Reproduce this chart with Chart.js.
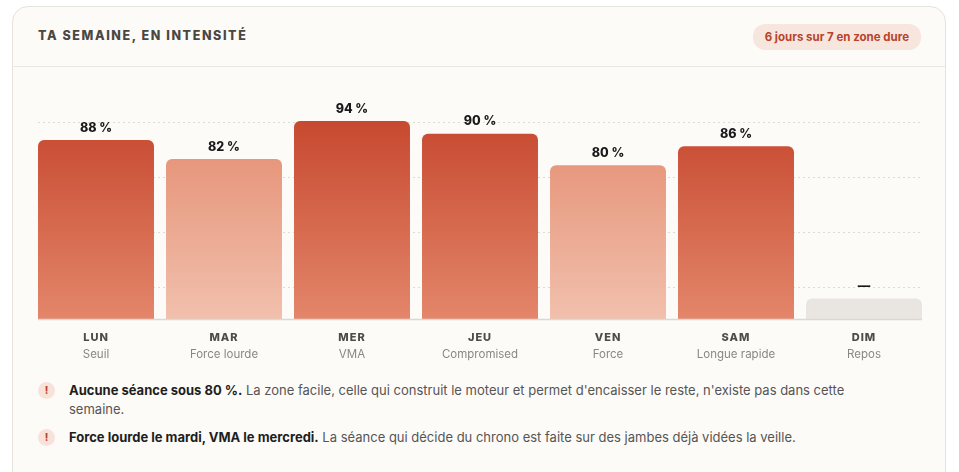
<!DOCTYPE html>
<html><head><meta charset="utf-8">
<script src="https://cdn.jsdelivr.net/npm/chart.js@4/dist/chart.umd.min.js"></script>
<style>
body{margin:0;background:#fff;font-family:Inter,"Noto Sans",sans-serif;}
.card{position:absolute;left:12px;top:6px;width:932px;height:480px;border:1px solid #e6e2dc;border-radius:16px;background:#fdfbf8;}
.title{position:absolute;left:25px;top:21px;font-size:12.5px;font-weight:800;letter-spacing:1.6px;color:#4a4742;}
.pill{position:absolute;right:24px;top:17px;background:#f7e6de;color:#b8432b;font-size:11.5px;font-weight:700;padding:6px 12px;border-radius:12px;}
.sep{position:absolute;left:0;right:0;top:59px;border-top:1px solid #ebe7e1;}
.cv{position:absolute;left:19px;top:60px;width:896px;height:310px;}
.note{position:absolute;left:25px;width:860px;font-size:13px;line-height:19px;color:#555;}
.note b{color:#1e1e1e;font-weight:700}
.ic{position:absolute;left:0;top:1px;width:17px;height:17px;border-radius:50%;background:#f8e2da;color:#b8432b;font-size:10px;font-weight:800;text-align:center;line-height:17px;}
.tx{margin-left:31px;}
</style></head><body>
<div class="card">
<div class="title">TA SEMAINE, EN INTENSITÉ</div>
<div class="pill">6 jours sur 7 en zone dure</div>
<div class="sep"></div>
<div class="cv"><canvas id="c"></canvas></div>
<div class="note" style="top:374px"><span class="ic">!</span><div class="tx"><b>Aucune séance sous 80 %.</b> La zone facile, celle qui construit le moteur et permet d'encaisser le reste, n'existe pas dans cette semaine.</div></div>
<div class="note" style="top:421px"><span class="ic">!</span><div class="tx"><b>Force lourde le mardi, VMA le mercredi.</b> La séance qui décide du chrono est faite sur des jambes déjà vidées la veille.</div></div>
</div>
<script>
const days = ["LUN","MAR","MER","JEU","VEN","SAM","DIM"];
const sessions = ["Seuil","Force lourde","VMA","Compromised","Force","Longue rapide","Repos"];
const intensity = [88,82,94,90,80,86,38];
const valueLabels = ["88 %","82 %","94 %","90 %","80 %","86 %","—"];
const kind = ["hard","light","hard","hard","light","hard","rest"];
const gridValues = [41.6,58.9,76.3,93.6];

function fill(ctx){
  const k = kind[ctx.dataIndex];
  const ca = ctx.chart.chartArea;
  if(!ca) return '#ccc';
  if(k==='rest') return '#e9e6e2';
  const g = ctx.chart.ctx.createLinearGradient(0,ca.top,0,ca.bottom);
  if(k==='hard'){g.addColorStop(0,'#c4432a');g.addColorStop(1,'#e3866a');}
  else{g.addColorStop(0,'#e3886b');g.addColorStop(1,'#f1c0ad');}
  return g;
}
const labelsPlugin={id:'lbl',
 beforeDatasetsDraw(ch){
  const c=ch.ctx, y=ch.scales.y, m=ch.getDatasetMeta(0);
  const l=m.data[0].x-m.data[0].width/2, r=m.data[6].x+m.data[6].width/2;
  c.save();c.strokeStyle='#dedad4';c.lineWidth=1;c.setLineDash([2,3]);
  gridValues.forEach(v=>{const py=Math.round(y.getPixelForValue(v))+0.5;c.beginPath();c.moveTo(l,py);c.lineTo(r,py);c.stroke();});
  c.restore();
 },
 afterDatasetsDraw(ch){
  const c=ch.ctx, x=ch.scales.x, m=ch.getDatasetMeta(0);
  const l=m.data[0].x-m.data[0].width/2, r=m.data[6].x+m.data[6].width/2;
  const base=ch.chartArea.bottom;
  c.save();c.textAlign='center';
  m.data.forEach((b,i)=>{
    c.fillStyle='#1a1a1a';c.font='800 12.5px Inter';c.textBaseline='bottom';
    c.fillText(valueLabels[i],b.x,b.y-6);
    const px=x.getPixelForValue(i);
    c.fillStyle='#4f4c48';c.font='800 11px Inter';c.textBaseline='middle';
    if(c.letterSpacing!==undefined)c.letterSpacing='1px';
    c.fillText(days[i],px,base+19);
    if(c.letterSpacing!==undefined)c.letterSpacing='0px';
    c.fillStyle='#8a8783';c.font='400 11.5px Inter';
    c.fillText(sessions[i],px,base+36);
  });
  c.strokeStyle='#dcd8d2';c.lineWidth=1.5;c.beginPath();
  c.moveTo(l,base+0.5);c.lineTo(r,base+0.5);c.stroke();
  c.restore();
}};
new Chart(document.getElementById('c'),{
  type:'bar',
  data:{labels:days,datasets:[{data:intensity,backgroundColor:fill,borderRadius:{topLeft:6,topRight:6},borderSkipped:'bottom',barPercentage:0.906,categoryPercentage:1}]},
  options:{responsive:true,maintainAspectRatio:false,animation:false,
    layout:{padding:{top:35,left:0,right:0,bottom:0}},
    plugins:{legend:{display:false},tooltip:{enabled:false}},
    scales:{
      x:{grid:{display:false},border:{display:false},ticks:{display:false},afterFit(s){s.height=58;}},
      y:{display:true,min:31.5,max:100,ticks:{display:false},border:{display:false},
        grid:{display:false},afterFit(s){s.width=0;}}
    }
  },
  plugins:[labelsPlugin]
});
</script>
</body></html>
